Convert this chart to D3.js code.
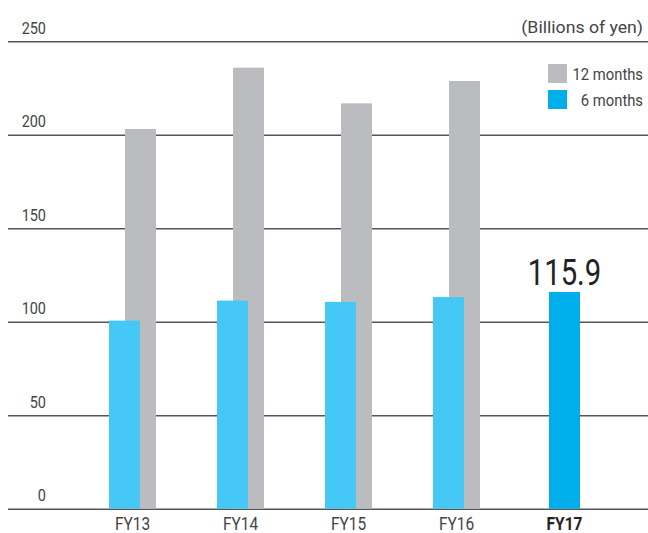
<!DOCTYPE html>
<html>
<head>
<meta charset="utf-8">
<script src="https://cdn.jsdelivr.net/npm/d3@7"></script>
<style>
  html, body { margin: 0; padding: 0; background: #fff; }
  svg { display: block; }
  text { font-family: "Roboto", "Liberation Sans", sans-serif; fill: #333; }
</style>
</head>
<body>
<svg id="chart" width="648" height="533"></svg>
<script>
const categories = ["FY13", "FY14", "FY15", "FY16", "FY17"];
const twelveMonths = [203.1, 235.9, 216.8, 228.8, null];
const sixMonths = [100.6, 111.3, 110.6, 113.2, 115.9];
const yTicks = [0, 50, 100, 150, 200, 250];
const unitLabel = "(Billions of yen)";
const legendLabels = ["12 months", "6 months"];
const highlightLabel = "115.9";

const colGray = "#BBBCC0";
const colBlue = "#45C8F5";
const colBlueDark = "#00AEEB";

const svg = d3.select("#chart");
const W = 648;

// horizontally condense text via transform, keeping its anchor point
function condense(sel, f) {
  sel.each(function () {
    const t = d3.select(this);
    const x0 = +t.attr("x") || 0;
    t.attr("x", 0).attr("transform", `translate(${x0},0) scale(${f},1)`);
  });
}

const y = d3.scaleLinear().domain([0, 250]).range([508.7, 41.3]);
const x = d3.scaleBand().domain(categories).range([78.5, 618.5]).padding(0);
const barW = 31;

// gridlines
const yAxis = d3.axisLeft(y).tickValues(yTicks).tickSize(-(W - 8)).tickFormat(d3.format("d"));
const gAxis = svg.append("g").attr("transform", "translate(8,0)").call(yAxis);
gAxis.select(".domain").remove();
gAxis.selectAll(".tick line").attr("stroke", "#555").attr("stroke-width", 1.4);
gAxis.selectAll(".tick text")
  .attr("x", 38).attr("dy", -8).attr("text-anchor", "end")
  .style("font-size", "17px").style("fill", "#444").style("font-family", "Roboto")
  .call(condense, 0.85);

const data = categories.map((c, i) => ({ c, g: twelveMonths[i], b: sixMonths[i] }));

const center = d => x(d.c) + x.bandwidth() / 2;
const blueX = d => d.g != null ? center(d) - 23.5 : center(d) - barW / 2;
const grayX = d => center(d) - 7.5;

// gray bars
svg.append("g").selectAll("rect").data(data.filter(d => d.g != null)).join("rect")
  .attr("x", grayX).attr("width", barW)
  .attr("y", d => y(d.g)).attr("height", d => y(0) - y(d.g))
  .attr("fill", colGray);

// blue bars
svg.append("g").selectAll("rect").data(data).join("rect")
  .attr("x", blueX).attr("width", barW)
  .attr("y", d => y(d.b)).attr("height", d => y(0) - y(d.b))
  .attr("fill", d => d.g == null ? colBlueDark : colBlue);

// x labels
svg.append("g").selectAll("text").data(data).join("text")
  .attr("x", d => d.g != null ? center(d) : blueX(d) + barW / 2)
  .attr("y", 530)
  .attr("text-anchor", "middle")
  .style("font-size", "18px")
  .style("font-weight", d => d.g == null ? "bold" : "normal")
  .style("fill", d => d.g == null ? "#222" : "#444")
  .text(d => d.c)
  .call(condense, 0.86);

// highlight value label
const last = data[data.length - 1];
svg.append("text")
  .attr("x", blueX(last) + barW / 2)
  .attr("y", y(last.b) - 7)
  .attr("text-anchor", "middle")
  .style("font-size", "37px")
  .style("fill", "#222")
  .text(highlightLabel)
  .call(condense, 0.79);

// unit label
svg.append("text")
  .attr("x", 643).attr("y", 33)
  .attr("text-anchor", "end")
  .style("font-size", "17px").style("fill", "#444")
  .text(unitLabel)
  .call(condense, 1.04);

// legend
const legendColors = [colGray, colBlueDark];
const lg = svg.append("g");
legendLabels.forEach((t, i) => {
  lg.append("rect").attr("x", 548).attr("y", 64 + i * 26).attr("width", 19).attr("height", 19)
    .attr("fill", legendColors[i]);
  lg.append("text").attr("x", 643).attr("y", 80 + i * 26).attr("text-anchor", "end")
    .style("font-size", "17px").style("fill", "#444").text(t)
    .call(condense, 0.87);
});
</script>
</body>
</html>
